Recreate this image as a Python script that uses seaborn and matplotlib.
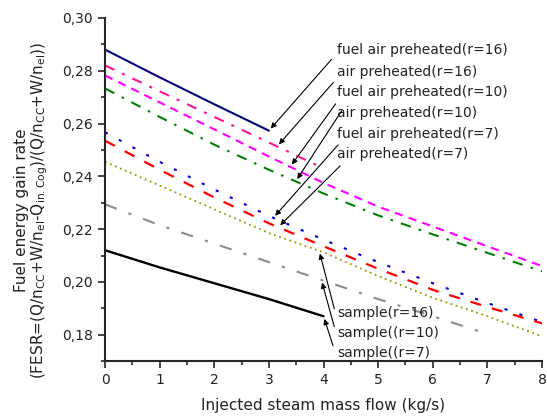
import numpy as np
import pandas as pd
import matplotlib
matplotlib.use("Agg")
import matplotlib.pyplot as plt
import seaborn as sns
from matplotlib.ticker import FuncFormatter, MultipleLocator

# injected steam mass flow (kg/s)
steam = [0, 1, 2, 3, 4, 5, 6, 7, 8]

fuel_air_r16 = [0.2880, 0.2775, 0.2673, 0.2573]
air_r16 = [0.2820, 0.2722, 0.2625, 0.2528, 0.2430]
fuel_air_r10 = [0.2782, 0.2680, 0.2578, 0.2475, 0.2375, 0.2285, 0.2210, 0.2135, 0.2060]
air_r10 = [0.2733, 0.2625, 0.2520, 0.2425, 0.2335, 0.2252, 0.2180, 0.2110, 0.2040]
fuel_air_r7 = [0.2567, 0.2455, 0.2350, 0.2250, 0.2160, 0.2075, 0.1995, 0.1920, 0.1848]
air_r7 = [0.2535, 0.2425, 0.2320, 0.2222, 0.2135, 0.2050, 0.1970, 0.1905, 0.1843]
sample_r16 = [0.2455, 0.2365, 0.2275, 0.2185, 0.2112, 0.2022, 0.1940, 0.1870, 0.1794]
sample_r10 = [0.2294, 0.2215, 0.2145, 0.2075, 0.2005, 0.1935, 0.1870, 0.1803]
sample_r7 = [0.2120, 0.2055, 0.1995, 0.1935, 0.1870]

series = [
    ("fuel air preheated(r=16)", fuel_air_r16, "#000080", "-", 1.5),
    ("air preheated(r=16)", air_r16, "#FF1493", (0, (5, 4, 1.5, 4)), 1.5),
    ("fuel air preheated(r=10)", fuel_air_r10, "#FF00FF", (0, (4, 3)), 1.5),
    ("air preheated(r=10)", air_r10, "#008000", (0, (5, 4, 1.2, 4)), 1.5),
    ("fuel air preheated(r=7)", fuel_air_r7, "#0000CC", (0, (1.5, 6)), 1.5),
    ("air preheated(r=7)", air_r7, "#FF0000", (0, (5, 5)), 1.6),
    ("sample(r=16)", sample_r16, "#999900", (0, (1, 2)), 1.3),
    ("sample((r=10)", sample_r10, "#8C8C8C", (0, (6, 6, 1.5, 6)), 1.5),
    ("sample((r=7)", sample_r7, "#000000", "-", 1.7),
]

sns.set_style("ticks")
plt.rcParams["font.family"] = ["DejaVu Sans"]
plt.rcParams["mathtext.fontset"] = "dejavusans"

fig = plt.figure(figsize=(5.47, 4.17), dpi=100)
ax = fig.add_axes([0.192, 0.134, 0.799, 0.823])

for name, vals, color, ls, lw in series:
    df = pd.DataFrame({"x": steam[:len(vals)], "y": vals})
    sns.lineplot(data=df, x="x", y="y", color=color, linestyle=ls, linewidth=lw, ax=ax)

ax.set_xlim(0, 8)
ax.set_ylim(0.17, 0.30)
ax.xaxis.set_major_locator(MultipleLocator(1))
ax.xaxis.set_minor_locator(MultipleLocator(0.5))
ax.yaxis.set_major_locator(MultipleLocator(0.02))
ax.yaxis.set_minor_locator(MultipleLocator(0.01))
ax.yaxis.set_major_formatter(FuncFormatter(lambda v, p: f"{v:.2f}".replace(".", ",")))
ax.tick_params(which="major", length=5, width=1.2, labelsize=10, direction="out",
               labelcolor="#222222")
ax.tick_params(which="minor", length=3, width=1.2, direction="out")
for s in ["left", "bottom"]:
    ax.spines[s].set_linewidth(1.5)
sns.despine(ax=ax)

ax.set_xlabel("Injected steam mass flow (kg/s)", fontsize=11, labelpad=8, color="#222222")
ax.set_ylabel("Fuel energy gain rate\n"
              r"(FESR=(Q/n$_{\mathrm{CC}}$+W/n$_{\mathrm{el}}$-Q$_{\mathrm{in.Cog}}$)"
              r"/(Q/n$_{\mathrm{CC}}$+W/n$_{\mathrm{el}}$))",
              fontsize=11, color="#222222", linespacing=1.05)
ax.yaxis.set_label_coords(-0.125, 0.44)

# labels with arrows: (text, text y, tail x, tail y, tip x, series values)
labels = [
    ("fuel air preheated(r=16)", 0.2877, 4.18, 0.2851, 3.00, fuel_air_r16),
    ("air preheated(r=16)", 0.2794, 4.21, 0.2763, 3.15, air_r16),
    ("fuel air preheated(r=10)", 0.2721, 4.25, 0.2683, 3.39, fuel_air_r10),
    ("air preheated(r=10)", 0.2638, 4.36, 0.2657, 3.49, air_r10),
    ("fuel air preheated(r=7)", 0.2562, 4.30, 0.2527, 3.08, fuel_air_r7),
    ("air preheated(r=7)", 0.2486, 4.34, 0.2447, 3.17, air_r7),
    ("sample(r=16)", 0.1884, 4.21, 0.1888, 3.92, sample_r16),
    ("sample((r=10)", 0.1808, 4.21, 0.1820, 3.96, sample_r10),
    ("sample((r=7)", 0.1732, 4.19, 0.1748, 4.00, sample_r7),
]
for text, ty, tx0, ty0, xtip, vals in labels:
    ax.text(4.25, ty, text, fontsize=10, va="center", ha="left", color="#222222")
    ytip = np.interp(xtip, steam[:len(vals)], vals)
    ax.annotate("", xy=(xtip, ytip), xytext=(tx0, ty0),
                arrowprops=dict(arrowstyle="-|>", color="black", lw=0.8, mutation_scale=8))

fig.savefig("out.png", dpi=100)
plt.close(fig)
